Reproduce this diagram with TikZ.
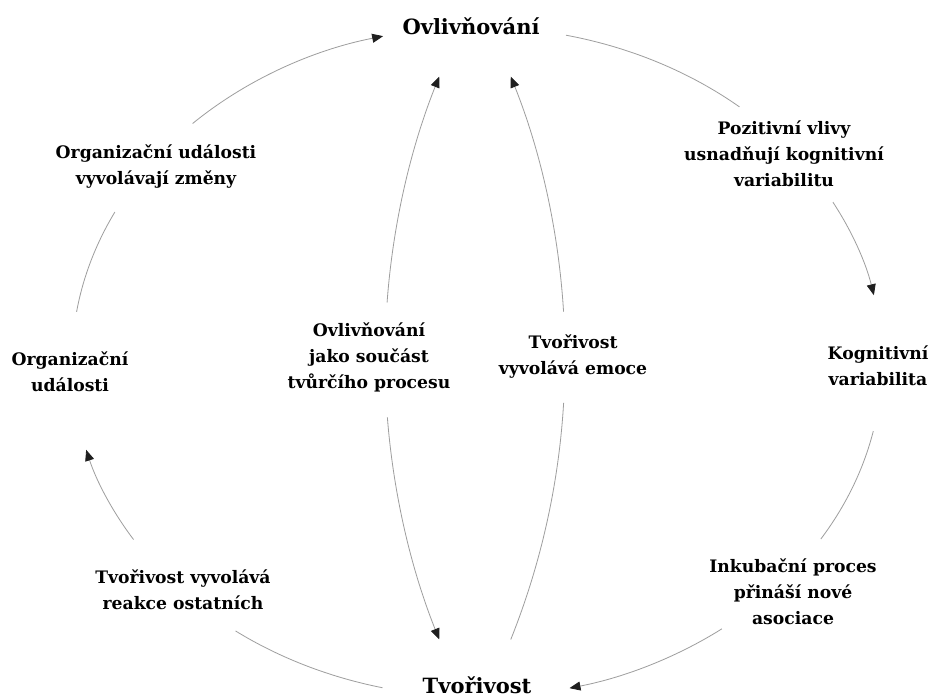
\documentclass[tikz,border=0pt]{standalone}
\usepackage{fontspec}
\setmainfont{DejaVu Serif}
\usetikzlibrary{arrows.meta}
\begin{document}
\begin{tikzpicture}[x=1pt,y=-1pt,
  conn/.style={draw=black!38,line width=0.8pt},
  tip/.style={-{Triangle[length=11pt,width=9pt,color=black!88]}},
  lbl/.style={align=center,inner sep=0pt,font=\bfseries\fontsize{17.2}{26}\selectfont},
  main/.style={inner sep=0pt,anchor=base,font=\bfseries\fontsize{21}{24}\selectfont}]
\fill[white] (0,0) rectangle (933,698);
\useasboundingbox (0,0) rectangle (933,698);
% nodes
\node[main] (ovl) at (471,35) {Ovlivňování};
\node[main] (tvo) at (477,693) {Tvořivost};
\node[lbl] (poz) at (784,154) {Pozitivní vlivy\\usnadňují kognitivní\\variabilitu};
\node[lbl] (kog) at (878,366) {Kognitivní\\variabilita};
\node[lbl] (ink) at (793,592) {Inkubační proces\\přináší nové\\asociace};
\node[lbl] (rea) at (183,590) {Tvořivost vyvolává\\reakce ostatních};
\node[lbl] (org) at (70,372) {Organizační\\události};
\node[lbl] (orz) at (156,167) {Organizační události\\vyvolávají změny};
\node[lbl] (ovj) at (369,357) {Ovlivňování\\jako součást\\tvůrčího procesu};
\node[lbl] (tve) at (573,357) {Tvořivost\\vyvolává emoce};
% outer ring
\coordinate (E) at (477,362);
\path (E) ++(225.4:405 and 335) coordinate (a1);
\path (E) ++(188.6:405 and 335) coordinate (a2);
\path (E) ++(282.7:405 and 335) coordinate (a3);
\path (E) ++(331.5:405 and 335) coordinate (a4);
\path (E) ++(11.9:405 and 335) coordinate (a5);
\path (E) ++(52.8:405 and 335) coordinate (a6);
\path (E) ++(103.5:405 and 335) coordinate (a7);
\path (E) ++(148:405 and 335) coordinate (a8);
\draw[conn,tip] (a1) arc[start angle=225.4,end angle=256.6,x radius=405,y radius=335];
\draw[conn] (a2) arc[start angle=188.6,end angle=206.6,x radius=405,y radius=335];
\draw[conn] (a3) arc[start angle=282.7,end angle=310.4,x radius=405,y radius=335];
\draw[conn,tip] (a4) arc[start angle=331.5,end angle=348.5,x radius=405,y radius=335];
\draw[conn] (a5) arc[start angle=11.9,end angle=31.9,x radius=405,y radius=335];
\draw[conn,tip] (a6) arc[start angle=52.8,end angle=76.8,x radius=405,y radius=335];
\draw[conn] (a7) arc[start angle=103.5,end angle=126.6,x radius=405,y radius=335];
\draw[conn,tip] (a8) arc[start angle=148,end angle=164.8,x radius=405,y radius=335];
% inner arcs
\coordinate (L) at (1143,358);
\coordinate (R) at (-193,358);
\path (L) ++(184.2:758) coordinate (b1);
\path (L) ++(175.5:758) coordinate (b2);
\path (R) ++(-3.5:758) coordinate (b3);
\path (R) ++(3.4:758) coordinate (b4);
\draw[conn,tip] (b1) arc[start angle=184.2,end angle=201.8,radius=758];
\draw[conn,tip] (b2) arc[start angle=175.5,end angle=158.2,radius=758];
\draw[conn,tip] (b3) arc[start angle=-3.5,end angle=-21.8,radius=758];
\draw[conn] (b4) arc[start angle=3.4,end angle=21.8,radius=758];
\end{tikzpicture}
\end{document}
